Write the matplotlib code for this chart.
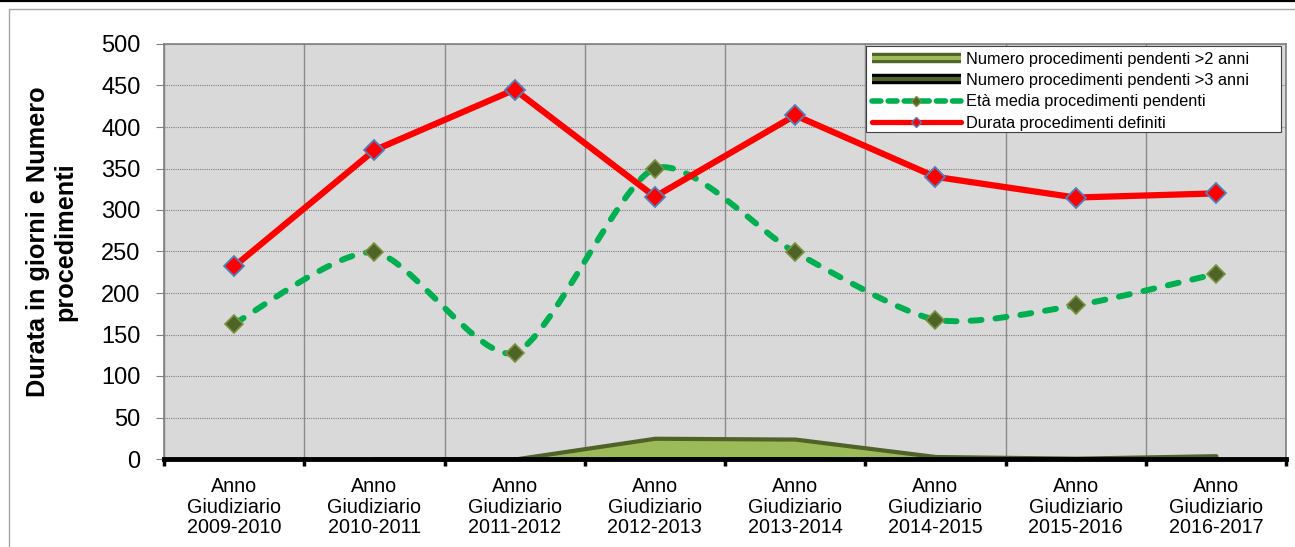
import matplotlib
matplotlib.use("Agg")
import matplotlib.pyplot as plt
import numpy as np
from matplotlib.path import Path
from matplotlib.patches import PathPatch, Rectangle
from matplotlib.lines import Line2D
import matplotlib.patheffects as pe

plt.rcParams['font.family'] = ['Liberation Sans', 'DejaVu Sans']

categories = ["Anno\nGiudiziario\n2009-2010", "Anno\nGiudiziario\n2010-2011",
              "Anno\nGiudiziario\n2011-2012", "Anno\nGiudiziario\n2012-2013",
              "Anno\nGiudiziario\n2013-2014", "Anno\nGiudiziario\n2014-2015",
              "Anno\nGiudiziario\n2015-2016", "Anno\nGiudiziario\n2016-2017"]
pendenti_2anni = [np.nan, 0, 0, 25, 24, 3, 1, 4]
pendenti_3anni = [0, 0, 0, 0, 0, 0, 0, 0]
eta_media = [163, 249, 128, 350, 249, 168, 185, 223]
durata_definiti = [232, 372, 445, 316, 414, 340, 315, 320]
yticks = [0, 50, 100, 150, 200, 250, 300, 350, 400, 450, 500]

labels = ["Numero procedimenti pendenti >2 anni",
          "Numero procedimenti pendenti >3 anni",
          "Età media procedimenti pendenti",
          "Durata procedimenti definiti"]

W, H = 1295, 547
fig = plt.figure(figsize=(W / 100, H / 100), dpi=100)
ax = fig.add_axes([164/W, 1-459/H, (1286-164)/W, (459-44)/H])
ax.set_facecolor('#D9D9D9')

x = np.arange(len(categories))

# areas
y2 = np.array(pendenti_2anni, dtype=float)
m = ~np.isnan(y2)
ax.fill_between(x[m], 0, y2[m], facecolor='#9BBB59', edgecolor='#4F6228', linewidth=3, zorder=2)
y3 = np.array(pendenti_3anni, dtype=float)
ax.fill_between(x, 0, y3, facecolor='#4F6228', edgecolor='black', linewidth=2, zorder=2)

# smoothed green dashed line (Bezier through data points)
def smooth_path(xs, ys, k=8.0):
    pts = np.column_stack([xs, ys]).astype(float)
    verts = [pts[0]]
    codes = [Path.MOVETO]
    n = len(pts)
    for i in range(n - 1):
        p0 = pts[i - 1] if i > 0 else pts[i]
        p1 = pts[i]
        p2 = pts[i + 1]
        p3 = pts[i + 2] if i + 2 < n else pts[i + 1]
        c1 = p1 + (p2 - p0) / k
        c2 = p2 - (p3 - p1) / k
        verts += [c1, c2, p2]
        codes += [Path.CURVE4] * 3
    return Path(verts, codes)

green = '#00B050'
gp = PathPatch(smooth_path(x, eta_media), facecolor='none', edgecolor=green,
               linewidth=4.3, linestyle=(0, (1.85, 2.35)), zorder=3)
gp.set_capstyle('round')
ax.add_patch(gp)
ax.plot(x, eta_media, linestyle='none', marker='D', markersize=9,
        markerfacecolor='#4F6228', markeredgecolor='#77933C', markeredgewidth=1.2, zorder=4)

# red line
ax.plot(x, durata_definiti, color='#FF0000', linewidth=4.5, marker='D', markersize=10.5,
        markerfacecolor='#FF0000', markeredgecolor='#4F81BD', markeredgewidth=1.3, zorder=5)

ax.set_xlim(-0.5, len(categories) - 0.5)
ax.set_ylim(0, 500)
ax.set_yticks(yticks)
ax.set_yticklabels([str(v) for v in yticks], fontsize=17)
ax.set_xticks(x)
ax.set_xticklabels(categories, fontsize=14.2, linespacing=1.1)
ax.set_xticks(np.arange(-0.5, len(categories)), minor=True)
ax.tick_params(axis='x', which='major', length=0, pad=13)
ax.tick_params(axis='x', which='minor', length=5, width=2.5, color='black', direction='out')
ax.tick_params(axis='y', length=6, color='#808080', pad=11)

ax.grid(axis='y', which='major', color='#7F7F7F', linestyle=(0, (1, 1)), linewidth=0.8, zorder=1)
ax.grid(axis='x', which='minor', color='#8C8C8C', linestyle='-', linewidth=1, zorder=1)
ax.set_axisbelow(True)

for s in ['left', 'top', 'right']:
    ax.spines[s].set_color('#808080')
    ax.spines[s].set_linewidth(1.2)
ax.spines['bottom'].set_color('black')
ax.spines['bottom'].set_linewidth(3.5)
ax.spines['bottom'].set_zorder(2.5)

ax.set_ylabel("Durata in giorni e Numero\nprocedimenti", fontsize=18.2, fontweight='bold',
              linespacing=1.15)
ax.yaxis.set_label_coords((77 - 164) / 1122, 0.524)

# legend box
ax.add_patch(Rectangle((866/W, 1-132/H), 415/W, 86/H, transform=fig.transFigure,
                       facecolor='white', edgecolor='#404040', linewidth=0.8,
                       clip_on=False, zorder=6))

h1 = Line2D([], [], color='#9BBB59', linewidth=3, solid_capstyle='butt',
            path_effects=[pe.Stroke(linewidth=7.5, foreground='#4F6228', capstyle='butt'), pe.Normal()])
h2 = Line2D([], [], color='#4F6228', linewidth=3, solid_capstyle='butt',
            path_effects=[pe.Stroke(linewidth=7.5, foreground='black', capstyle='butt'), pe.Normal()])
h3 = Line2D([], [], color=green, linewidth=4, linestyle=(0, (1.6, 1.3)), marker='D',
            markersize=5.5, markerfacecolor='#4F6228', markeredgecolor='#77933C',
            dash_capstyle='round')
h4 = Line2D([], [], color='#FF0000', linewidth=3.8, marker='D', markersize=5.5,
            markerfacecolor='#FF0000', markeredgecolor='#4F81BD', solid_capstyle='round')
leg = ax.legend([h1, h2, h3, h4], labels, loc='upper left',
                bbox_to_anchor=(872/W, 1-52/H), bbox_transform=fig.transFigure,
                fontsize=11.8, handlelength=5.4, handletextpad=0.35, numpoints=1,
                borderpad=0.0, labelspacing=0.38, frameon=False, borderaxespad=0.0)
leg.set_zorder(7)

# figure decorations
fig.add_artist(Line2D([0, 1], [1 - 1/H, 1 - 1/H], transform=fig.transFigure, color='black', linewidth=1.6))
fig.add_artist(Line2D([9/W, 9/W, 1], [0, 1 - 9/H, 1 - 9/H], transform=fig.transFigure,
                      color='#A6A6A6', linewidth=1.0))

fig.savefig('out.png', dpi=100)
